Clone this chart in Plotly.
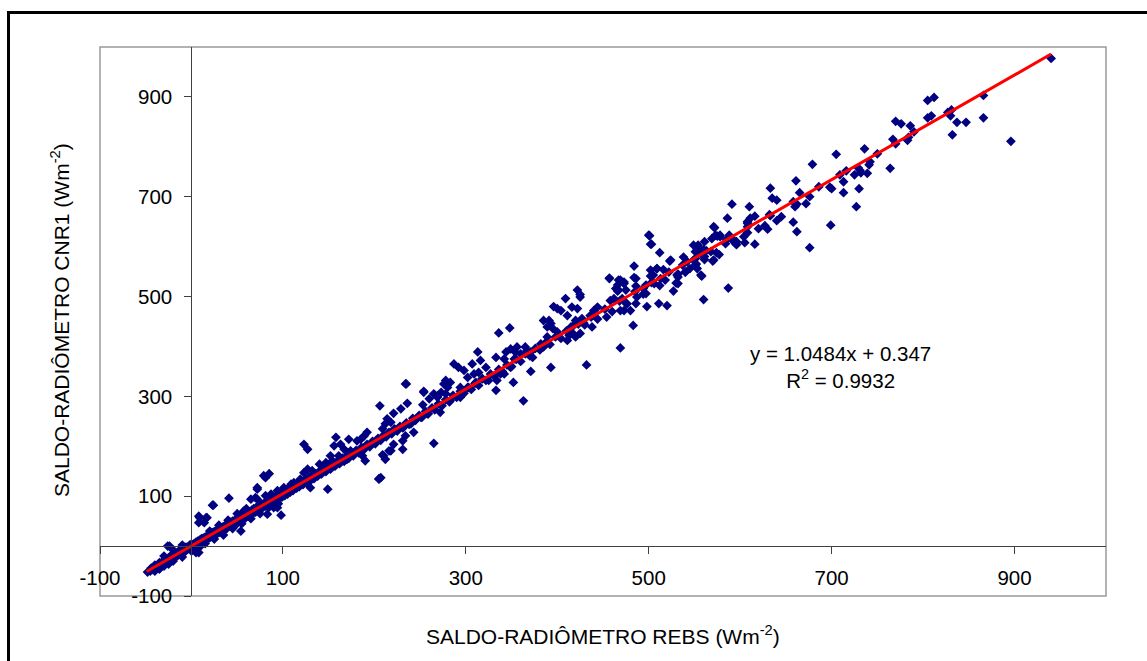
import numpy as np
import plotly.graph_objects as go

# ---- data (REBS x, CNR1 y) in W m-2 ----
core_band = [
    (-48,-52),(-45,-50),(-44,-44),(-42,-47),(-40,-38),(-38,-44),(-36,-40),(-35,-33),(-33,-38),(-31,-30),
    (-30,-36),(-28,-26),(-27,-32),(-25,-24),(-24,-29),(-22,-18),(-21,-25),(-20,-20),(-18,-22),(-17,-14),
    (-15,-19),(-14,-10),(-12,-16),(-11,-8),(-10,-13),(-8,-6),(-7,-11),(-6,-2),(-5,-7),(-3,-5),(-2,2),
    (-1,-3),(0,4),(1,-1),(2,1),(3,5),(4,-4),(5,8),(6,3),(7,10),(8,2),(9,12),(10,7),(11,15),(12,9),(13,16),
    (14,11),(15,18),(16,13),(17,20),(18,14),(19,22),(20,17),(21,25),(22,19),(23,27),(24,21),(25,29),(26,23),
    (27,31),(28,25),(29,33),(30,27),(31,35),(32,29),(34,38),(35,31),(36,40),(37,33),(38,43),(39,36),(40,45),
    (42,40),(43,48),(44,41),(45,50),(47,44),(48,53),(49,46),(50,56),(52,50),(53,58),(54,52),(55,60),(57,55),
    (58,63),(59,56),(60,66),(62,60),(63,69),(64,62),(66,72),(67,65),(68,75),(70,68),(71,78),(72,71),(74,81),
    (75,74),(77,84),(78,77),(80,87),(81,80),(83,90),(84,83),(86,93),(87,86),(89,97),(90,89),(92,100),(93,92),
    (95,103),(96,95),(98,106),(99,98),(101,110),(102,101),(104,113),(105,104),(107,116),(108,108),(110,119),
    (111,111),(113,122),(115,116),(117,125),(118,119),(120,129),(122,123),(124,133),(126,127),(128,137),
    (130,131),(132,141),(134,135),(136,145),(138,140),(140,150),(142,144),(145,155),(147,149),(150,160),
    (152,154),(155,166),(157,160),(160,171),(162,165),(165,176),(167,170),(170,181),(172,176),(175,186),
    (177,181),(180,192),(183,187),(186,198),(189,194),(192,204),(195,199),(198,210),(201,205),(204,216),
    (207,212),(210,222),(213,219),(216,228),(219,225),(222,235),(225,231),(228,240),(231,237),(235,247),
    (238,244),(242,256),(245,252),(249,262),(252,258),(256,270),(259,265),(263,277),(266,273),(270,285),
    (274,281),(278,293),(282,289),(286,302),(290,298),(294,310),(298,306),(302,318),(306,314),(310,326),
    (314,322),(318,336),(322,332),(327,345),(331,341),(336,354),(340,350),(345,363),(350,360),(355,374),
    (360,370),(365,385),(370,381),(376,396),(381,393),(387,407),(392,404),(398,419),(404,416),(410,431),
    (416,428),(423,445),(430,443),(437,459),(444,455),(452,475),(460,470),(468,491),(476,485),(485,510),
    (494,505),(503,528),(512,522),(522,549),(532,545),(542,570),(552,565),(563,592),(574,588),(585,614),
    (596,610),(608,640),(620,636),(632,664),(645,660),(658,690),(672,686),(686,720),(700,716),(716,752),
    (732,748),(750,786),(770,806),(790,830),
]

low_spread = [
    (10,0),(15,5),(25,14),(35,22),(45,35),(55,45),(65,55),(75,65),(85,78),(95,85),(-10,-22),(-20,-30),
    (-30,-40),(0,-10),(5,-5),(-35,-46),(-40,-50),(-25,-36),(-30,-20),(-20,-8),(-10,2),(20,30),(30,42),
    (40,52),(50,65),(60,75),(41,96),(24,82),(9,57),(17,57),(14,47),(-26,0),(98,62),(79,80),(72,94),(90,77),
    (54,30),(47,40),(5,-13),(8,-13),(94,77),(83,64),(72,114),(65,94),(57,70),(50,54),(42,44),(23,82),
    (16,57),(8,47),(-24,0),(8,60),(81,137),(85,145),(149,114),(123,204),(127,194),(79,141),(72,117),
    (130,117),(112,127),(101,117),(94,111),(87,104),(81,101),(70,97),(109,124),(116,127),(119,134),
]

mid_spread = [
    (206,281),(254,310),(260,295),(253,283),(236,286),(229,275),(221,266),(214,255),(212,245),(218,248),
    (209,235),(225,231),(232,238),(240,245),(246,255),(243,228),(234,221),(231,211),(221,204),(218,191),
    (210,181),(212,174),(207,137),(231,194),(192,228),(189,221),(185,214),(181,211),(172,214),(158,218),
    (156,201),(163,204),(167,194),(174,191),(178,184),(187,181),(170,174),(161,181),(152,181),(154,171),
    (147,167),(140,164),(132,151),(127,154),(123,147),(129,137),(190,171),(209,183),(216,191),(205,134),
    (235,325),(276,325),(269,301),(278,305),(265,206),(205,135),(251,258),(258,265),(272,268),(234,325),
    (287,365),(292,358),(298,352),(302,338),(309,345),(314,348),(318,335),(325,332),(333,312),(334,332),
    (311,328),(303,318),(294,318),(283,328),(278,332),(280,318),(273,308),(265,305),(269,298),(254,308),
    (283,291),(294,298),(313,389),(316,372),(307,365),(322,358),(333,378),(342,345),(336,427),(348,437),
    (371,389),(373,378),(365,399),(367,392),(356,399),(354,389),(360,385),(349,395),(353,375),(344,389),
    (342,375),(352,328),(363,291),(349,358),(338,345),(371,350),
]

upper_spread = [
    (400,476),(396,480),(404,472),(391,452),(389,439),(385,452),(393,446),(395,436),(400,429),(389,419),
    (382,405),(385,399),(444,479),(440,472),(436,462),(438,439),(427,456),(429,447),(425,426),(420,419),
    (411,412),(413,422),(415,439),(418,442),(420,452),(422,476),(416,479),(411,462),(409,496),(422,513),
    (425,504),(425,499),(432,363),(393,358),(480,472),(476,486),(473,472),(469,472),(471,496),(467,513),
    (466,523),(464,516),(469,533),(473,526),(458,492),(457,537),(454,459),(469,397),(483,442),(498,480),
    (497,506),(494,516),(487,499),(486,486),(484,538),(486,521),(524,573),(531,543),(527,511),(520,482),
    (511,486),(509,556),(513,536),(505,543),(502,553),(500,623),(502,605),(512,588),(549,603),(553,596),
    (555,590),(551,576),(551,563),(557,543),(545,556),(540,549),(537,563),(538,579),(571,640),(575,621),
    (578,623),(569,616),(561,610),(557,593),(568,590),(561,580),(571,573),(608,647),(604,620),(593,613),
    (595,606),(584,606),(587,517),(560,494),(462,496),(457,536),(467,533),(473,529),(475,513),(466,511),
]

high_spread = [
    (940,977),(866,903),(866,858),(896,811),(805,893),(812,899),(805,858),(809,862),(827,869),(831,874),
    (830,862),(837,849),(847,849),(832,824),(770,851),(776,846),(786,842),(767,815),(783,813),(784,819),
    (736,796),(742,770),(741,764),(764,757),(729,758),(705,785),(679,765),(739,747),(731,753),(725,744),
    (713,730),(709,744),(730,716),(727,680),(713,708),(698,719),(699,643),(676,700),(665,708),(661,732),
    (660,680),(662,685),(658,649),(662,630),(676,598),(633,717),(635,697),(640,693),(633,662),(640,652),
    (627,642),(630,635),(610,680),(591,685),(608,650),(611,657),(616,661),(608,628),(616,605),(605,608),
    (586,657),(591,614),(596,604),(588,623),(572,638),(573,623),(578,620),(577,584),(570,571),(554,603),
    (560,594),(551,590),(557,585),(549,573),(553,556),(561,574),(558,541),(540,549),(532,539),(530,527),
    (523,571),(516,554),(509,556),(518,533),(501,622),(503,605),(502,541),(506,526),(532,526),(484,561),
    (486,536),(497,523),
]

slope, intercept, r2 = 1.0484, 0.347, 0.9932
fit_x_range = [-49, 940]

x_ticks = [-100, 100, 300, 500, 700, 900]
y_ticks = [-100, 100, 300, 500, 700, 900]

all_pts = core_band + low_spread + mid_spread + upper_spread + high_spread
xs = [p[0] for p in all_pts]
ys = [p[1] for p in all_pts]

FONT = "Liberation Sans, Arial, sans-serif"

fig = go.Figure()
fig.add_trace(go.Scatter(
    x=xs, y=ys, mode="markers",
    marker=dict(symbol="diamond", size=7.5, color="#000080", line=dict(width=0)),
    showlegend=False, hoverinfo="skip",
))
fx = np.array(fit_x_range, dtype=float)
fig.add_trace(go.Scatter(
    x=fx, y=slope * fx + intercept, mode="lines",
    line=dict(color="#ff0000", width=3), showlegend=False, hoverinfo="skip",
))

xr = [-100, 1000]
yr = [-100, 1000]
pos_x = (0 - xr[0]) / (xr[1] - xr[0])
pos_y = (0 - yr[0]) / (yr[1] - yr[0])

fig.update_layout(
    width=1147, height=661,
    margin=dict(l=100, r=41, t=47, b=65),
    paper_bgcolor="white", plot_bgcolor="white",
    font=dict(family=FONT, size=20.5, color="black"),
    xaxis=dict(range=xr, domain=[0, 1], anchor="free", position=pos_y,
               showgrid=False, zeroline=False, showline=True, linecolor="#404040", linewidth=1.3,
               ticks="outside", ticklen=7, tickcolor="#404040", tickwidth=1,
               tickvals=x_ticks, ticktext=[str(v) for v in x_ticks], ticklabelstandoff=6,
               tickfont=dict(size=20.5)),
    yaxis=dict(range=yr, domain=[0, 1], anchor="free", position=pos_x,
               showgrid=False, zeroline=False, showline=True, linecolor="#404040", linewidth=1.3,
               ticks="outside", ticklen=7, tickcolor="#404040", tickwidth=1,
               tickvals=y_ticks, ticktext=[str(v) for v in y_ticks], ticklabelstandoff=8,
               tickfont=dict(size=20.5)),
    shapes=[
        dict(type="rect", xref="paper", yref="paper", x0=0, y0=0, x1=1, y1=1,
             line=dict(color="#999999", width=1.5), layer="below"),
        dict(type="rect", xref="paper", yref="paper",
             x0=(8.5 - 100) / 1006, y1=(596 - 12.5) / 549, x1=1.2, y0=-0.3,
             line=dict(color="black", width=3), layer="below"),
    ],
    annotations=[
        dict(xref="paper", yref="paper", x=0.5, y=(596 - 635) / 549,
             text="SALDO-RADIÔMETRO REBS (Wm<sup>-2</sup>)", showarrow=False,
             xanchor="center", yanchor="middle", font=dict(size=21)),
        dict(xref="paper", yref="paper", x=(60 - 100) / 1006, y=(596 - 320) / 549,
             text="SALDO-RADIÔMETRO CNR1 (Wm<sup>-2</sup>)", showarrow=False, textangle=-90,
             xanchor="center", yanchor="middle", font=dict(size=21)),
        dict(xref="paper", yref="paper", x=(840 - 100) / 1006, y=(596 - 367) / 549,
             text=f"y = {slope}x + {intercept}<br>R<sup>2</sup> = {r2}", showarrow=False,
             xanchor="center", yanchor="middle", align="center", font=dict(size=20.5)),
    ],
)

fig.write_html("out.html")
